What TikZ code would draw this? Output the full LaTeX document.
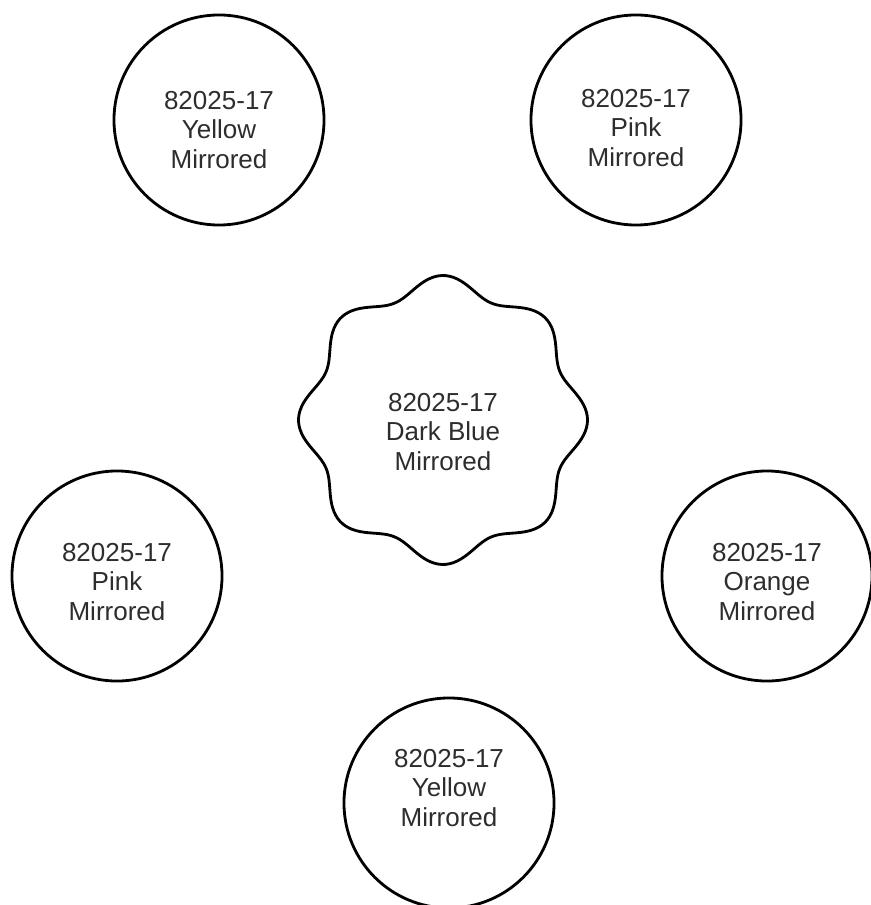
\documentclass[tikz,border=0pt]{standalone}
\usepackage{fontspec}
\setmainfont{Liberation Sans}

\begin{document}
\begin{tikzpicture}[
    x=0.025cm, y=-0.025cm,
    line cap=round,
    every node/.style={font=\fontsize{18.5}{21.3}\selectfont},
    disc/.style={circle, draw=black, line width=2pt, minimum size=5.25cm, inner sep=0pt},
    lbl/.style={align=center, text=inkgray, inner sep=0pt},
]

\definecolor{inkgray}{RGB}{45,45,45}

\useasboundingbox (0,0) rectangle (870,905);

% ---------- macro: one round swatch with its three-line caption ----------
% #1 = node name, #2/#3 = circle centre (px), #4 = caption y, #5 = colour word
\newcommand{\swatch}[5]{%
    \node[disc] (#1) at (#2,#3) {};
    \node[lbl] (#1-txt) at (#2,#4) {82025-17\\#5\\Mirrored};
}

% central wavy badge, eight soft lobes
\draw[line width=2pt]
    plot[domain=0:360, samples=240, smooth, variable=\t]
    ({443+(135.5+9*cos(8*\t))*cos(\t)}, {420+(135.5+9*cos(8*\t))*sin(\t)}) -- cycle;
\node[lbl] (darkblue) at (443,432) {82025-17\\Dark Blue\\Mirrored};

% ring of circles
\swatch{yellowtop}{219}{120}{130}{Yellow}
\swatch{pinktop}{636}{120}{128}{Pink}
\swatch{pinkleft}{117}{576}{582}{Pink}
\swatch{orange}{767}{576}{582}{Orange}
\swatch{yellowbot}{449}{803}{788}{Yellow}

\end{tikzpicture}
\end{document}
